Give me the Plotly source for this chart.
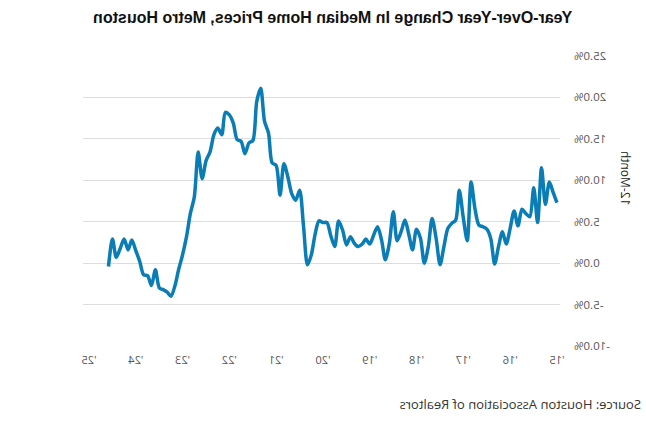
import plotly.graph_objects as go
import pandas as pd

title_text = "Year-Over-Year Change In Median Home Prices, Metro Houston"
y_title = "12-Month"
source_text = "Source: Houston Association of Realtors"

months = pd.date_range("2015-01-01", periods=116, freq="MS")
yoy_change = [
    7.3, 8.6, 9.8, 7.1, 11.5, 4.9, 9.1, 5.6, 6.0, 6.5, 4.5, 6.3,
    4.2, 2.3, 3.8, 2.0, -0.1, 3.0, 4.1, 4.4, 4.6, 6.5, 9.8, 2.7,
    5.5, 8.8, 5.2, 4.8, 4.2, 2.0, -0.2, 3.0, 5.4, 2.0, 0.0, 3.0,
    4.1, 1.6, 3.4, 5.2, 3.8, 2.7, 6.2, 2.4, 0.4, 2.8, 4.4, 3.4,
    2.3, 2.9, 2.3, 2.0, 2.4, 3.2, 2.2, 4.0, 5.1, 2.0, 3.3, 4.9,
    4.9, 5.1, 3.6, 1.0, -0.2, 4.5, 8.8, 7.6, 8.4, 10.4, 12.0, 8.2,
    11.8, 12.1, 15.7, 17.1, 21.1, 19.5, 14.8, 14.5, 13.2, 14.7, 14.9, 16.9,
    17.9, 18.2, 15.5, 16.3, 15.5, 13.4, 12.4, 10.2, 13.4, 8.0, 6.0, 3.2,
    1.0, -0.8, -2.7, -4.0, -3.5, -3.2, -3.0, -0.8, -2.7, -1.5, -1.4, 0.2,
    1.5, 2.8, 1.6, 2.9, 1.8, 0.7, 2.9, -0.4,
]
y_ticks = [-10, -5, 0, 5, 10, 15, 20, 25]
y_tick_labels = ["-10.0%", "-5.0%", "0.0%", "5.0%", "10.0%", "15.0%", "20.0%", "25.0%"]

fig = go.Figure()
fig.add_trace(go.Scatter(
    x=months, y=yoy_change, mode="lines",
    line=dict(color="#0a7db6", width=3.5, shape="spline", smoothing=0.8),
    hoverinfo="skip", showlegend=False,
))

fig.update_layout(
    width=646, height=426,
    margin=dict(l=86, r=83, t=56, b=80),
    paper_bgcolor="white", plot_bgcolor="white",
    font=dict(family="Liberation Sans, Arial, sans-serif"),
    title=dict(text="<b>" + title_text + "</b>", x=0.485, xanchor="center",
               y=0.96, yanchor="middle",
               font=dict(size=16, color="#111")),
    xaxis=dict(
        type="date",
        range=["2014-12-08", "2025-02-16"],
        tick0="2015-01-01", dtick="M12", tickformat="'%y",
        showgrid=False, showline=False, zeroline=False, ticks="",
        ticklabelstandoff=6,
        tickfont=dict(size=11, color="#555", family="Open Sans, sans-serif"),
    ),
    yaxis=dict(
        range=[-10, 25], tickvals=y_ticks, ticktext=y_tick_labels,
        showgrid=True, gridcolor="#dddddd", gridwidth=1,
        zeroline=False, showline=False, ticks="",
        ticklabelstandoff=13,
        tickfont=dict(size=11.5, color="#555", family="Open Sans, sans-serif"),
    ),
    annotations=[
        dict(text=y_title, xref="paper", yref="paper",
             x=-0.137, y=0.58, textangle=-90, showarrow=False,
             xanchor="center", yanchor="middle",
             font=dict(size=12, color="#222", family="Open Sans, sans-serif")),
        dict(text=source_text, xref="paper", yref="paper",
             x=-0.175, y=-0.2, xanchor="left", yanchor="middle",
             showarrow=False,
             font=dict(size=13, color="#333", family="Open Sans, sans-serif")),
    ],
)

mirror_js = (
    "document.body.style.margin='0';"
    "var d=document.getElementById('{plot_id}');"
    "d.style.transform='scaleX(-1)';"
)
fig.write_html("out.html", post_script=mirror_js,
               config={"displayModeBar": False})
